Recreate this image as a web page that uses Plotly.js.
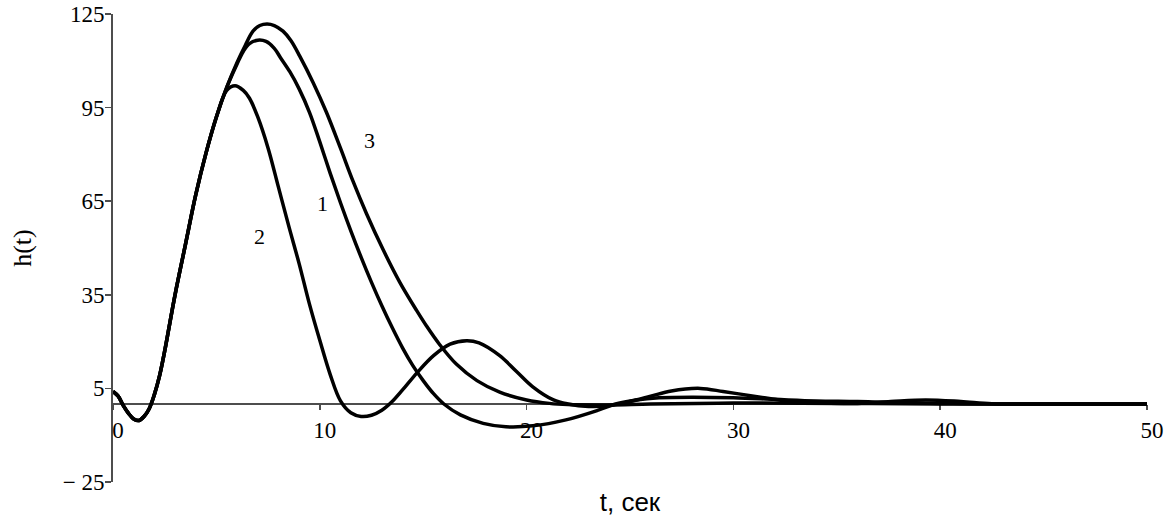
<!DOCTYPE html>
<html>
<head>
<meta charset="utf-8">
<script src="https://cdn.plot.ly/plotly-3.0.1.min.js"></script>
<style>
  html, body { margin: 0; padding: 0; background: #fff; }
  #chart { width: 1171px; height: 520px; }
</style>
</head>
<body>
<div id="chart"></div>
<script>
// ---- data ----
const t1 = [0, 0.25, 0.5, 0.75, 1.0, 1.25, 1.5, 1.75, 2.0, 2.25, 2.5, 3.0, 3.5, 4.0, 4.5, 5.0,
  5.5, 6.0, 6.3, 6.6, 7.0, 7.4, 7.8, 8.1, 8.55, 9.0, 9.5, 10.0, 10.5, 11.0, 11.5, 12.0, 12.5,
  13.0, 13.5, 14.0, 14.5, 15.0, 15.5, 16.0, 16.8, 17.9, 19.0, 20.3, 21.9, 23.5, 24.3, 25.3,
  26.4, 28, 30, 32, 34, 36, 38, 40, 42, 50];
const h1 = [4, 2.5, -0.5, -3, -4.8, -5.3, -4, -1.5, 3, 9, 17, 35, 51, 67, 80.5, 92,
  101.5, 109, 113, 115.5, 116.6, 116.2, 114, 111, 106.5, 101, 93.5, 84, 74, 64.5, 55.5, 47, 39,
  31.5, 24.5, 18, 12.3, 7.5, 3.3, 0, -3.5, -6.2, -7.3, -7.0, -5.1, -1.9, 0, 1.3,
  2, 2.2, 2, 1.5, 1, 0.8, 0.4, 0.2, 0, 0];

const t2 = [0, 0.25, 0.5, 0.75, 1.0, 1.25, 1.5, 1.75, 2.0, 2.25, 2.5, 3.0, 3.5, 4.0, 4.5, 5.0,
  5.5, 5.9, 6.3, 6.6, 7.0, 7.5, 8.0, 8.5, 9.0, 9.5, 10.0, 10.5, 11.0, 11.5, 12.0, 12.5, 13.0,
  13.5, 14.0, 14.7, 15.5, 16.3, 17.1, 17.7, 18.7, 19.5, 20.3, 21.3, 22.0, 23.0, 24.0, 25.0,
  26.0, 27.0, 28.4, 29.5, 30.5, 31.5, 32.7, 34, 36, 37.6, 39.3, 41, 42.5, 45, 50];
const h2 = [4, 2.5, -0.5, -3, -4.8, -5.3, -4, -1.5, 3, 9, 17, 35, 51, 67, 80.5, 92,
  100.5, 102, 100.5, 98, 92, 82, 69.5, 57, 45, 32, 20.4, 9.5, 1, -2.8, -4, -3.6, -2,
  0.8, 4.5, 10, 15.5, 19.2, 20.3, 19.6, 15.5, 10.5, 5.5, 1.3, 0, -0.8, -0.5, 0.8,
  2.5, 4.2, 5, 4, 3, 2, 0.8, 0.3, 0.2, 0.8, 1.3, 0.8, 0.1, 0, 0];

const t3 = [0, 0.25, 0.5, 0.75, 1.0, 1.25, 1.5, 1.75, 2.0, 2.25, 2.5, 3.0, 3.5, 4.0, 4.5, 5.0,
  5.5, 6.0, 6.4, 6.77, 7.1, 7.45, 7.8, 8.22, 8.6, 9.03, 9.68, 10.32, 11.0, 11.6, 12.26, 13.06,
  13.87, 14.68, 15.16, 15.8, 16.6, 17.6, 18.7, 20, 21.1, 22, 24, 26, 30, 35, 40, 50];
const h3 = [4, 2.5, -0.5, -3, -4.8, -5.3, -4, -1.5, 3, 9, 17, 35, 51, 67, 80.5, 92,
  101.5, 109.5, 115, 119.5, 121.3, 121.8, 121.3, 119.5, 116.5, 111.5, 103, 93.5, 82, 71.5, 61, 49.5,
  39, 30, 25, 19, 12.8, 7.5, 3.8, 1.3, 0.2, -0.2, -0.3, 0, 0.3, 0.2, 0, 0];

const curveNames = ["1", "2", "3"];
const labelT = [10.13, 7.06, 12.42];
const labelH = [64.3, 53.6, 84.6];

const xTickVals = [0, 10, 20, 30, 40, 50];
const xTickText = ["0", "10", "20", "30", "40", "50"];
const yTickVals = [-25, 5, 35, 65, 95, 125];
const yTickText = ["\u2212 25", "5", "35", "65", "95", "125"];

const xTitle = "t, сек";
const yTitle = "h(t)";

// ---- build ----
const series = [[t1, h1], [t2, h2], [t3, h3]];
const traces = series.map((s, i) => ({
  x: s[0], y: s[1], name: curveNames[i], type: "scatter", mode: "lines",
  line: { color: "#000000", width: 3.5, shape: "spline", smoothing: 1 },
  hoverinfo: "skip", cliponaxis: false
}));

const annotations = curveNames.map((n, i) => ({
  x: labelT[i], y: labelH[i], xref: "x", yref: "y", text: n, showarrow: false,
  font: { family: "Liberation Serif, Times New Roman, serif", size: 22, color: "#000" }
}));

const axisColor = "#4d4d4d";
const tickFont = { family: "Liberation Serif, Times New Roman, serif", size: 23, color: "#000" };

const layout = {
  width: 1171, height: 520,
  margin: { l: 113, r: 24, t: 14, b: 38, pad: 0 },
  paper_bgcolor: "#ffffff", plot_bgcolor: "#ffffff",
  showlegend: false,
  xaxis: {
    range: [0, 50], anchor: "free", position: 25 / 150,
    showgrid: false, zeroline: false, showline: true, linecolor: axisColor, linewidth: 2,
    ticks: "outside", ticklen: 5, tickwidth: 1.5, tickcolor: axisColor,
    tickvals: xTickVals, ticktext: xTickText, tickfont: tickFont,
    ticklabelshift: 5, layer: "below traces",
    title: { text: xTitle, standoff: 50,
      font: { family: "Liberation Sans, Arial, sans-serif", size: 26, color: "#000" } }
  },
  yaxis: {
    range: [-25, 125],
    showgrid: false, zeroline: false, showline: true, linecolor: axisColor, linewidth: 2,
    ticks: "outside", ticklen: 6, tickwidth: 1.5, tickcolor: axisColor,
    tickvals: yTickVals, ticktext: yTickText, tickfont: tickFont,
    ticklabelstandoff: -4, ticklabeloverflow: "allow", layer: "below traces",
    title: { text: yTitle, standoff: 24,
      font: { family: "Liberation Serif, Times New Roman, serif", size: 26, color: "#000" } }
  },
  annotations: annotations
};

Plotly.newPlot("chart", traces, layout, { staticPlot: true, displayModeBar: false });
</script>
</body>
</html>
